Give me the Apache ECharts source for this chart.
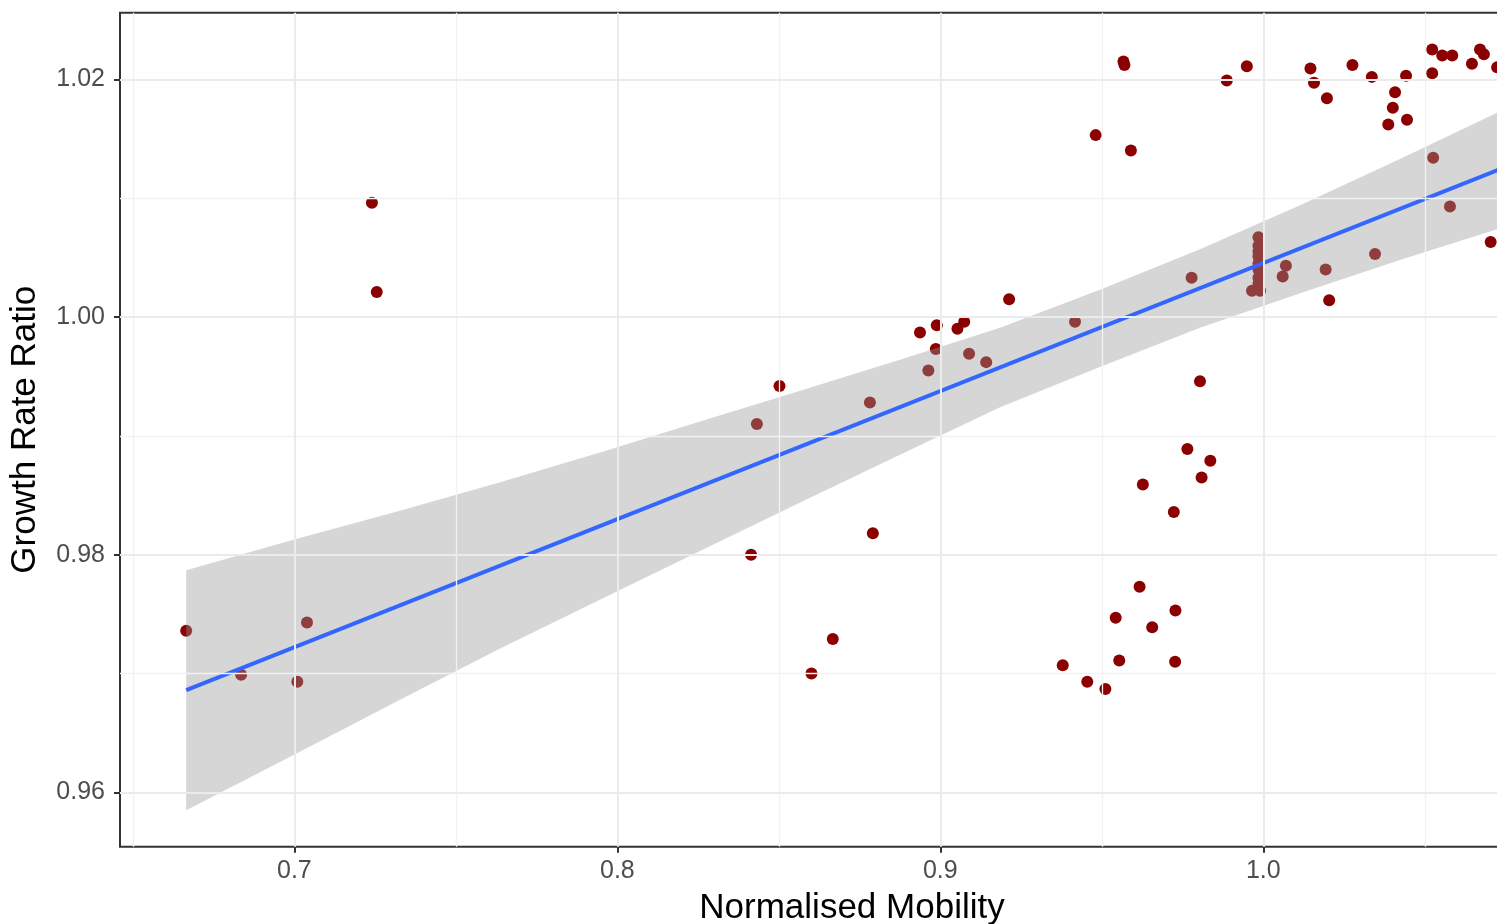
<!DOCTYPE html>
<html>
<head>
<meta charset="utf-8">
<script src="https://cdn.jsdelivr.net/npm/echarts@6/dist/echarts.min.js"></script>
<style>
html,body{margin:0;padding:0;background:#fff;}
#chart{width:1497px;height:924px;}
</style>
</head>
<body>
<div id="chart"></div>
<script>
// ---- tick / grid values ----
const xMajor = [0.7, 0.8, 0.9, 1.0];
const xMinor = [0.65, 0.75, 0.85, 0.95, 1.05];
const yMajor = [0.96, 0.98, 1.00, 1.02];
const yMinor = [0.97, 0.99, 1.01];

const mobility = [
  0.6665, 0.6835, 0.7009, 0.7039, 0.7240, 0.7255,
  0.8414, 0.8432, 0.8502, 0.8601, 0.8667, 0.8782, 0.8791,
  0.8937, 0.8989, 0.8986, 0.8963, 0.9053, 0.9074, 0.9089, 0.9142, 0.9213,
  0.9417, 0.9379, 0.9455, 0.9511, 0.9554, 0.9543, 0.9617, 0.9656, 0.9728, 0.9727,
  0.9627, 0.9723, 0.9765, 0.9836, 0.9809, 0.9804, 0.9778,
  0.9481, 0.9590, 0.9567, 0.9570, 0.9887, 0.9949,
  0.9985, 0.9985, 0.9985, 0.9985, 0.9985, 0.9985, 0.9985, 0.9985, 0.9965, 0.9990,
  1.0070, 1.0060, 1.0193, 1.0204, 1.0346, 1.0526, 1.0578, 1.0704,
  1.0146, 1.0157, 1.0197, 1.0276, 1.0336, 1.0408, 1.0442, 1.0401, 1.0445, 1.0387,
  1.0523, 1.0523, 1.0554, 1.0585, 1.0646, 1.0671, 1.0683, 1.0724
];
const growthRatio = [
  0.9736, 0.9699, 0.9693, 0.9743, 1.0096, 1.0021,
  0.9800, 0.9910, 0.9942, 0.9700, 0.9729, 0.9928, 0.9818,
  0.9987, 0.9993, 0.9973, 0.9955, 0.9990, 0.9996, 0.9969, 0.9962, 1.0015,
  0.9996, 0.9707, 0.9693, 0.9687, 0.9711, 0.9747, 0.9773, 0.9739, 0.9753, 0.9710,
  0.9859, 0.9836, 0.9889, 0.9879, 0.9865, 0.9946, 1.0033,
  1.0153, 1.0140, 1.0215, 1.0212, 1.0199, 1.0211,
  1.0067, 1.0060, 1.0055, 1.0051, 1.0045, 1.0040, 1.0033, 1.0028, 1.0022, 1.0022,
  1.0043, 1.0034, 1.0040, 1.0014, 1.0053, 1.0134, 1.0093, 1.0063,
  1.0209, 1.0197, 1.0184, 1.0212, 1.0202, 1.0189, 1.0203, 1.0176, 1.0166, 1.0162,
  1.0225, 1.0205, 1.0220, 1.0220, 1.0213, 1.0225, 1.0221, 1.0210
];

// ---- fitted line and its confidence band ----
const fitX = [0.6665, 1.0748];
const fitY = [0.9686, 1.0126];
const ribbonX     = [0.6665, 0.7002, 0.7327, 0.7637, 0.7946, 0.8256, 0.8566, 0.8875, 0.9185, 0.9494, 0.9804, 1.0114, 1.0423, 1.0748];
const ribbonUpper = [0.9787, 0.9813, 0.9837, 0.9861, 0.9886, 0.9912, 0.9938, 0.9964, 0.9991, 1.0023, 1.0057, 1.0094, 1.0133, 1.0175];
const ribbonLower = [0.9585, 0.9632, 0.9678, 0.9721, 0.9762, 0.9803, 0.9844, 0.9884, 0.9924, 0.9958, 0.9991, 1.0020, 1.0048, 1.0076];

const FONT = '"Liberation Sans", Arial, Helvetica, sans-serif';

const points = mobility.map((x, i) => [x, growthRatio[i]]);
const fitData = fitX.map((x, i) => [x, fitY[i]]);

const minorStyle = {color: '#F2F2F2', width: 1.3, type: 'solid'};
const majorStyle = {color: '#EBEBEB', width: 2, type: 'solid'};
const gridLines = [
  ...xMinor.map(v => ({xAxis: v, lineStyle: minorStyle})),
  ...yMinor.map(v => ({yAxis: v, lineStyle: minorStyle})),
  ...xMajor.map(v => ({xAxis: v, lineStyle: majorStyle})),
  ...yMajor.map(v => ({yAxis: v, lineStyle: majorStyle}))
];

const chart = echarts.init(document.getElementById('chart'), null, {renderer: 'canvas'});
chart.setOption({
  animation: false,
  backgroundColor: '#ffffff',
  textStyle: {fontFamily: FONT},
  grid: {
    left: 120, top: 12.7, width: 1464, height: 834,
    outerBoundsMode: 'none', containLabel: false,
    show: true, borderColor: '#333333', borderWidth: 2, backgroundColor: 'transparent'
  },
  xAxis: {
    type: 'value', min: 0.646, max: 1.0993,
    name: 'Normalised Mobility', nameLocation: 'middle', nameGap: 44,
    nameTextStyle: {fontSize: 35, color: '#000000', fontFamily: FONT},
    axisLine: {show: false},
    splitLine: {show: false},
    axisTick: {show: true, customValues: xMajor, length: 6, lineStyle: {color: '#333333', width: 2}},
    axisLabel: {show: true, customValues: xMajor, margin: 12, fontSize: 25, color: '#4D4D4D',
      fontFamily: FONT, formatter: v => Number(v).toFixed(1)}
  },
  yAxis: {
    type: 'value', min: 0.95543, max: 1.0256,
    name: 'Growth Rate Ratio', nameLocation: 'middle', nameRotate: 90, nameGap: 77,
    nameTextStyle: {fontSize: 35, color: '#000000', fontFamily: FONT},
    axisLine: {show: false},
    splitLine: {show: false},
    axisTick: {show: true, customValues: yMajor, length: 6, lineStyle: {color: '#333333', width: 2}},
    axisLabel: {show: true, customValues: yMajor, margin: 15, fontSize: 25, color: '#4D4D4D',
      fontFamily: FONT, formatter: v => Number(v).toFixed(2)}
  },
  series: [
    {
      type: 'line', data: [], z: 1, silent: true,
      markLine: {
        silent: true, symbol: ['none', 'none'], label: {show: false},
        animation: false, emphasis: {disabled: true},
        data: gridLines
      }
    },
    {
      type: 'scatter', data: points, z: 2, symbol: 'circle', symbolSize: 12,
      itemStyle: {color: '#8B0000', opacity: 1}, silent: true
    },
    {
      type: 'custom', z: 3, silent: true,
      data: [[ribbonX[0], ribbonUpper[0]]],
      renderItem: function (params, api) {
        const pts = [];
        for (let i = 0; i < ribbonX.length; i++) pts.push(api.coord([ribbonX[i], ribbonUpper[i]]));
        for (let i = ribbonX.length - 1; i >= 0; i--) pts.push(api.coord([ribbonX[i], ribbonLower[i]]));
        return {type: 'polygon', shape: {points: pts}, style: {fill: 'rgba(153,153,153,0.4)', stroke: null}};
      }
    },
    {
      type: 'line', data: fitData, z: 4, showSymbol: false, symbol: 'none', silent: true,
      lineStyle: {color: '#3366FF', width: 4}
    }
  ]
});
</script>
</body>
</html>
